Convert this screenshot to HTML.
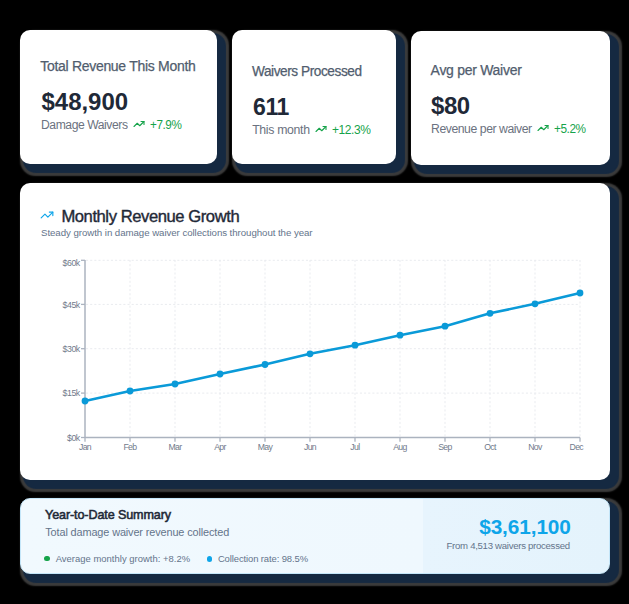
<!DOCTYPE html>
<html><head><meta charset="utf-8"><style>
html,body{margin:0;padding:0;width:629px;height:604px;overflow:hidden;background:#000;}
body{position:relative;font-family:"Liberation Sans",sans-serif;}
.card{position:absolute;background:#fff;border-radius:10px;box-shadow: 6px 6px 1px 3px rgb(21,41,65), 6px 6px 1.5px 5.5px rgba(150,150,150,0.4);}
.t{position:absolute;white-space:nowrap;line-height:1;}
.ic{position:absolute;overflow:visible;}
svg.chart{position:absolute;left:0;top:0;}
</style></head><body>
<div class="card" id="c1" style="left:20px;top:30px;width:197px;height:134px"></div>
<div class="card" id="c2" style="left:232px;top:30px;width:164px;height:134px"></div>
<div class="card" id="c3" style="left:411px;top:31px;width:199px;height:134px"></div>
<div class="card" id="c4" style="left:20px;top:183px;width:590px;height:297px"></div>
<div class="card" id="c5" style="left:20px;top:498px;width:588px;height:74px;border:1px solid #c4e6f9;background:linear-gradient(90deg,#f1f9fe 0px,#eff8fe 402px,#e7f4fd 402px,#e4f3fc 588px)"></div>
<div class="t" id="t1" style="left:40.20px;top:58.95px;font-size:14.00px;letter-spacing:-0.295px;color:#515d6e;font-weight:400;-webkit-text-stroke:0.25px currentColor;">Total Revenue This Month</div>
<div class="t" id="v1" style="left:41.50px;top:90.08px;font-size:24.00px;letter-spacing:-0.027px;color:#1f2937;font-weight:700;">$48,900</div>
<div class="t" id="s1" style="left:41.20px;top:119.19px;font-size:12.30px;letter-spacing:-0.450px;color:#6b7280;font-weight:400;transform:scaleX(0.9884);transform-origin:0 0;">Damage Waivers</div>
<svg class="ic" id="i1" style="left:133px;top:118.4px;width:12px;height:12px" viewBox="0 0 24 24" fill="none" stroke="#16a34a" stroke-width="2.2" stroke-linecap="round" stroke-linejoin="round"><polyline points="22 7 13.5 15.5 8.5 10.5 2 17"/><polyline points="16 7 22 7 22 13"/></svg>
<div class="t" id="p1" style="left:149.80px;top:119.09px;font-size:12.30px;letter-spacing:-0.450px;color:#16a34a;font-weight:400;transform:scaleX(0.9517);transform-origin:0 0;">+7.9%</div>
<div class="t" id="t2" style="left:251.80px;top:63.85px;font-size:14.00px;letter-spacing:-0.450px;color:#515d6e;font-weight:400;-webkit-text-stroke:0.25px currentColor;transform:scaleX(0.9745);transform-origin:0 0;">Waivers Processed</div>
<div class="t" id="v2" style="left:252.80px;top:94.53px;font-size:24.00px;letter-spacing:-0.450px;color:#1f2937;font-weight:700;transform:scaleX(0.9600);transform-origin:0 0;">611</div>
<div class="t" id="s2" style="left:252.20px;top:123.79px;font-size:12.30px;letter-spacing:-0.337px;color:#6b7280;font-weight:400;">This month</div>
<svg class="ic" id="i2" style="left:315.3px;top:123.3px;width:12px;height:12px" viewBox="0 0 24 24" fill="none" stroke="#16a34a" stroke-width="2.2" stroke-linecap="round" stroke-linejoin="round"><polyline points="22 7 13.5 15.5 8.5 10.5 2 17"/><polyline points="16 7 22 7 22 13"/></svg>
<div class="t" id="p2" style="left:332.00px;top:124.29px;font-size:12.30px;letter-spacing:-0.450px;color:#16a34a;font-weight:400;transform:scaleX(0.9748);transform-origin:0 0;">+12.3%</div>
<div class="t" id="t3" style="left:430.60px;top:62.90px;font-size:14.00px;letter-spacing:-0.286px;color:#515d6e;font-weight:400;-webkit-text-stroke:0.25px currentColor;">Avg per Waiver</div>
<div class="t" id="v3" style="left:431.30px;top:94.38px;font-size:24.00px;letter-spacing:-0.450px;color:#1f2937;font-weight:700;transform:scaleX(0.9992);transform-origin:0 0;">$80</div>
<div class="t" id="s3" style="left:431.00px;top:123.19px;font-size:12.30px;letter-spacing:-0.450px;color:#6b7280;font-weight:400;transform:scaleX(0.9946);transform-origin:0 0;">Revenue per waiver</div>
<svg class="ic" id="i3" style="left:537px;top:121.9px;width:12px;height:12px" viewBox="0 0 24 24" fill="none" stroke="#16a34a" stroke-width="2.2" stroke-linecap="round" stroke-linejoin="round"><polyline points="22 7 13.5 15.5 8.5 10.5 2 17"/><polyline points="16 7 22 7 22 13"/></svg>
<div class="t" id="p3" style="left:553.70px;top:123.39px;font-size:12.30px;letter-spacing:-0.450px;color:#16a34a;font-weight:400;transform:scaleX(0.9606);transform-origin:0 0;">+5.2%</div>
<svg class="ic" id="i4" style="left:40.45px;top:207.8px;width:14px;height:14px" viewBox="0 0 24 24" fill="none" stroke="#0ea5e9" stroke-width="2" stroke-linecap="round" stroke-linejoin="round"><polyline points="22 7 13.5 15.5 8.5 10.5 2 17"/><polyline points="16 7 22 7 22 13"/></svg>
<div class="t" id="ct" style="left:61.40px;top:208.95px;font-size:16.60px;letter-spacing:-0.428px;color:#1f2937;font-weight:400;-webkit-text-stroke:0.4px currentColor;">Monthly Revenue Growth</div>
<div class="t" id="cs" style="left:41.00px;top:228.49px;font-size:9.70px;letter-spacing:-0.059px;color:#64748b;font-weight:400;">Steady growth in damage waiver collections throughout the year</div>
<svg class="chart" id="chart" width="629" height="604" viewBox="0 0 629 604">
<line x1="86" y1="260.3" x2="580" y2="260.3" stroke="#e9ebef" stroke-width="1" stroke-dasharray="2.1 2.05"/>
<line x1="86" y1="304.4" x2="580" y2="304.4" stroke="#e9ebef" stroke-width="1" stroke-dasharray="2.1 2.05"/>
<line x1="86" y1="348.7" x2="580" y2="348.7" stroke="#e9ebef" stroke-width="1" stroke-dasharray="2.1 2.05"/>
<line x1="86" y1="393.1" x2="580" y2="393.1" stroke="#e9ebef" stroke-width="1" stroke-dasharray="2.1 2.05"/>
<line x1="130" y1="260" x2="130" y2="437" stroke="#e9ebef" stroke-width="1" stroke-dasharray="2.1 2.05"/>
<line x1="175" y1="260" x2="175" y2="437" stroke="#e9ebef" stroke-width="1" stroke-dasharray="2.1 2.05"/>
<line x1="220" y1="260" x2="220" y2="437" stroke="#e9ebef" stroke-width="1" stroke-dasharray="2.1 2.05"/>
<line x1="265" y1="260" x2="265" y2="437" stroke="#e9ebef" stroke-width="1" stroke-dasharray="2.1 2.05"/>
<line x1="310" y1="260" x2="310" y2="437" stroke="#e9ebef" stroke-width="1" stroke-dasharray="2.1 2.05"/>
<line x1="355" y1="260" x2="355" y2="437" stroke="#e9ebef" stroke-width="1" stroke-dasharray="2.1 2.05"/>
<line x1="400" y1="260" x2="400" y2="437" stroke="#e9ebef" stroke-width="1" stroke-dasharray="2.1 2.05"/>
<line x1="445" y1="260" x2="445" y2="437" stroke="#e9ebef" stroke-width="1" stroke-dasharray="2.1 2.05"/>
<line x1="490" y1="260" x2="490" y2="437" stroke="#e9ebef" stroke-width="1" stroke-dasharray="2.1 2.05"/>
<line x1="535" y1="260" x2="535" y2="437" stroke="#e9ebef" stroke-width="1" stroke-dasharray="2.1 2.05"/>
<line x1="580" y1="260" x2="580" y2="437" stroke="#e9ebef" stroke-width="1" stroke-dasharray="2.1 2.05"/>
<line x1="85" y1="260" x2="85" y2="437.5" stroke="#abb3bf" stroke-width="1.5"/>
<line x1="85" y1="437.5" x2="580" y2="437.5" stroke="#abb3bf" stroke-width="1.5"/>
<line x1="81" y1="260.3" x2="85" y2="260.3" stroke="#abb3bf" stroke-width="1.3"/>
<text x="79.8" y="266.2" text-anchor="end" font-size="8.8" letter-spacing="-0.45" fill="#717a8b" font-family="Liberation Sans">$60k</text>
<line x1="81" y1="304.4" x2="85" y2="304.4" stroke="#abb3bf" stroke-width="1.3"/>
<text x="79.8" y="307.8" text-anchor="end" font-size="8.8" letter-spacing="-0.45" fill="#717a8b" font-family="Liberation Sans">$45k</text>
<line x1="81" y1="348.7" x2="85" y2="348.7" stroke="#abb3bf" stroke-width="1.3"/>
<text x="79.8" y="352.1" text-anchor="end" font-size="8.8" letter-spacing="-0.45" fill="#717a8b" font-family="Liberation Sans">$30k</text>
<line x1="81" y1="393.1" x2="85" y2="393.1" stroke="#abb3bf" stroke-width="1.3"/>
<text x="79.8" y="395.8" text-anchor="end" font-size="8.8" letter-spacing="-0.45" fill="#717a8b" font-family="Liberation Sans">$15k</text>
<line x1="81" y1="437.5" x2="85" y2="437.5" stroke="#abb3bf" stroke-width="1.3"/>
<text x="79.8" y="440.7" text-anchor="end" font-size="8.8" letter-spacing="-0.45" fill="#717a8b" font-family="Liberation Sans">$0k</text>
<line x1="85" y1="437.5" x2="85" y2="441.7" stroke="#abb3bf" stroke-width="1.3"/>
<text x="85" y="450.2" text-anchor="middle" font-size="8.7" letter-spacing="-0.6" fill="#717a8b" font-family="Liberation Sans">Jan</text>
<line x1="130" y1="437.5" x2="130" y2="441.7" stroke="#abb3bf" stroke-width="1.3"/>
<text x="130" y="450.2" text-anchor="middle" font-size="8.7" letter-spacing="-0.6" fill="#717a8b" font-family="Liberation Sans">Feb</text>
<line x1="175" y1="437.5" x2="175" y2="441.7" stroke="#abb3bf" stroke-width="1.3"/>
<text x="175" y="450.2" text-anchor="middle" font-size="8.7" letter-spacing="-0.6" fill="#717a8b" font-family="Liberation Sans">Mar</text>
<line x1="220" y1="437.5" x2="220" y2="441.7" stroke="#abb3bf" stroke-width="1.3"/>
<text x="220" y="450.2" text-anchor="middle" font-size="8.7" letter-spacing="-0.6" fill="#717a8b" font-family="Liberation Sans">Apr</text>
<line x1="265" y1="437.5" x2="265" y2="441.7" stroke="#abb3bf" stroke-width="1.3"/>
<text x="265" y="450.2" text-anchor="middle" font-size="8.7" letter-spacing="-0.6" fill="#717a8b" font-family="Liberation Sans">May</text>
<line x1="310" y1="437.5" x2="310" y2="441.7" stroke="#abb3bf" stroke-width="1.3"/>
<text x="310" y="450.2" text-anchor="middle" font-size="8.7" letter-spacing="-0.6" fill="#717a8b" font-family="Liberation Sans">Jun</text>
<line x1="355" y1="437.5" x2="355" y2="441.7" stroke="#abb3bf" stroke-width="1.3"/>
<text x="355" y="450.2" text-anchor="middle" font-size="8.7" letter-spacing="-0.6" fill="#717a8b" font-family="Liberation Sans">Jul</text>
<line x1="400" y1="437.5" x2="400" y2="441.7" stroke="#abb3bf" stroke-width="1.3"/>
<text x="400" y="450.2" text-anchor="middle" font-size="8.7" letter-spacing="-0.6" fill="#717a8b" font-family="Liberation Sans">Aug</text>
<line x1="445" y1="437.5" x2="445" y2="441.7" stroke="#abb3bf" stroke-width="1.3"/>
<text x="445" y="450.2" text-anchor="middle" font-size="8.7" letter-spacing="-0.6" fill="#717a8b" font-family="Liberation Sans">Sep</text>
<line x1="490" y1="437.5" x2="490" y2="441.7" stroke="#abb3bf" stroke-width="1.3"/>
<text x="490" y="450.2" text-anchor="middle" font-size="8.7" letter-spacing="-0.6" fill="#717a8b" font-family="Liberation Sans">Oct</text>
<line x1="535" y1="437.5" x2="535" y2="441.7" stroke="#abb3bf" stroke-width="1.3"/>
<text x="535" y="450.2" text-anchor="middle" font-size="8.7" letter-spacing="-0.6" fill="#717a8b" font-family="Liberation Sans">Nov</text>
<line x1="580" y1="437.5" x2="580" y2="441.7" stroke="#abb3bf" stroke-width="1.3"/>
<text x="576.3" y="450.2" text-anchor="middle" font-size="8.7" letter-spacing="-0.6" fill="#717a8b" font-family="Liberation Sans">Dec</text>
<polyline points="85,401 130,391 175,384 220,374 265,364.5 310,353.8 355,345.2 400,335.2 445,326.2 490,313.3 535,303.8 580,293" fill="none" stroke="#0a9ad8" stroke-width="2.6" stroke-linejoin="round"/>
<circle cx="85" cy="401" r="3.4" fill="#0a9ad8"/>
<circle cx="130" cy="391" r="3.4" fill="#0a9ad8"/>
<circle cx="175" cy="384" r="3.4" fill="#0a9ad8"/>
<circle cx="220" cy="374" r="3.4" fill="#0a9ad8"/>
<circle cx="265" cy="364.5" r="3.4" fill="#0a9ad8"/>
<circle cx="310" cy="353.8" r="3.4" fill="#0a9ad8"/>
<circle cx="355" cy="345.2" r="3.4" fill="#0a9ad8"/>
<circle cx="400" cy="335.2" r="3.4" fill="#0a9ad8"/>
<circle cx="445" cy="326.2" r="3.4" fill="#0a9ad8"/>
<circle cx="490" cy="313.3" r="3.4" fill="#0a9ad8"/>
<circle cx="535" cy="303.8" r="3.4" fill="#0a9ad8"/>
<circle cx="580" cy="293" r="3.4" fill="#0a9ad8"/>
</svg>
<div class="t" id="yt" style="left:45.00px;top:508.93px;font-size:12.60px;letter-spacing:-0.115px;color:#1f2937;font-weight:400;-webkit-text-stroke:0.55px currentColor;">Year-to-Date Summary</div>
<div class="t" id="ys" style="left:45.30px;top:526.57px;font-size:10.90px;letter-spacing:-0.121px;color:#64748b;font-weight:400;">Total damage waiver revenue collected</div>
<div id="d1" style="position:absolute;left:44.4px;top:555.9px;width:5.6px;height:5.6px;border-radius:50%;background:#16a34a"></div>
<div class="t" id="yg" style="left:55.70px;top:554.20px;font-size:9.45px;letter-spacing:0.020px;color:#64748b;font-weight:400;">Average monthly growth: +8.2%</div>
<div id="d2" style="position:absolute;left:206.7px;top:556.1px;width:5.6px;height:5.6px;border-radius:50%;background:#0ea5e9"></div>
<div class="t" id="yc" style="left:217.90px;top:554.10px;font-size:9.45px;letter-spacing:-0.102px;color:#64748b;font-weight:400;">Collection rate: 98.5%</div>
<div class="t" id="yv" style="left:479.20px;top:516.89px;font-size:20.80px;letter-spacing:-0.105px;color:#0ea5e9;font-weight:700;">$3,61,100</div>
<div class="t" id="yf" style="left:446.50px;top:541.07px;font-size:9.60px;letter-spacing:-0.283px;color:#64748b;font-weight:400;">From 4,513 waivers processed</div>
</body></html>
